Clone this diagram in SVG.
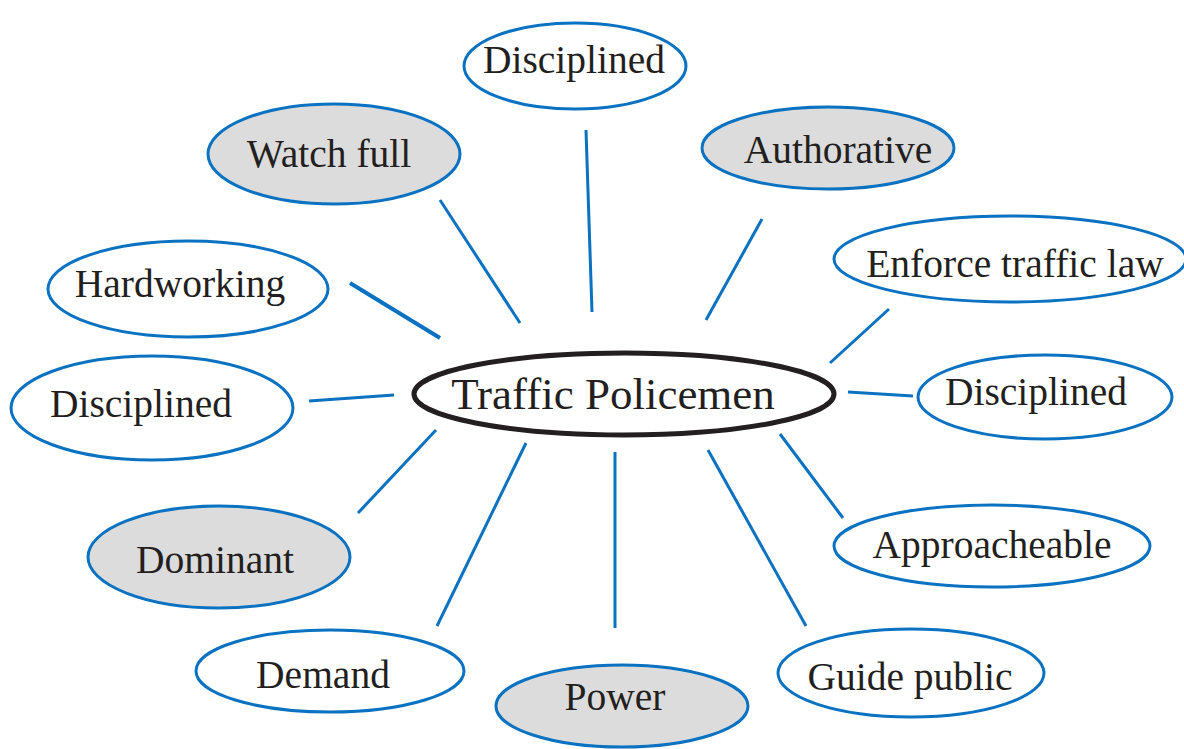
<svg xmlns="http://www.w3.org/2000/svg" width="1184" height="749" viewBox="0 0 1184 749">
<style>
.n{stroke:#0b72c1;stroke-width:3;fill:#fff}
.g{fill:#dcdcdc}
.t{font-family:"Liberation Serif",serif;font-size:39.5px;fill:#231f20;text-anchor:middle}
.c line{stroke:#0b72c1;stroke-width:3}
</style>
<rect width="1184" height="749" fill="#fff"/>
<g id="connectors" class="c">
<line x1="586" y1="130" x2="592" y2="312"/>
<line x1="440" y1="200" x2="520" y2="323"/>
<line x1="762" y1="219" x2="706" y2="320"/>
<line x1="889" y1="309" x2="830" y2="363"/>
<line x1="350" y1="283" x2="440" y2="338" style="stroke-width:4"/>
<line x1="309" y1="401" x2="394" y2="395"/>
<line x1="848" y1="392" x2="913" y2="396"/>
<line x1="436" y1="430" x2="358" y2="513"/>
<line x1="526" y1="443" x2="437" y2="626"/>
<line x1="615" y1="452" x2="615" y2="628"/>
<line x1="708" y1="450" x2="806" y2="626"/>
<line x1="780" y1="434" x2="843" y2="518"/>
</g>
<g id="center">
<ellipse cx="624" cy="394" rx="210" ry="41" fill="#fff" stroke="#231f20" stroke-width="5"/>
<text x="613" y="409" class="t" style="font-size:45px">Traffic Policemen</text>
</g>
<g id="n-disciplined-top"><ellipse class="n" cx="575" cy="66" rx="111" ry="43"/><text class="t" x="574" y="73">Disciplined</text></g>
<g id="n-watch"><ellipse class="n g" cx="334" cy="154" rx="126" ry="50"/><text class="t" x="329" y="167">Watch full</text></g>
<g id="n-authorative"><ellipse class="n g" cx="828" cy="148" rx="126" ry="41"/><text class="t" x="838" y="163">Authorative</text></g>
<g id="n-enforce"><ellipse class="n" cx="1010" cy="259" rx="176" ry="43"/><text class="t" x="1015" y="277">Enforce traffic law</text></g>
<g id="n-hardworking"><ellipse class="n" cx="188" cy="289" rx="140" ry="48"/><text class="t" x="180" y="297">Hardworking</text></g>
<g id="n-disciplined-left"><ellipse class="n" cx="152" cy="408" rx="141" ry="52"/><text class="t" x="141" y="417">Disciplined</text></g>
<g id="n-disciplined-right"><ellipse class="n" cx="1045" cy="397" rx="127" ry="42"/><text class="t" x="1036" y="405">Disciplined</text></g>
<g id="n-dominant"><ellipse class="n g" cx="219" cy="557" rx="131" ry="51"/><text class="t" x="215" y="573">Dominant</text></g>
<g id="n-approacheable"><ellipse class="n" cx="992" cy="546" rx="158" ry="41"/><text class="t" x="992" y="558">Approacheable</text></g>
<g id="n-demand"><ellipse class="n" cx="330" cy="671" rx="134" ry="41"/><text class="t" x="323" y="688">Demand</text></g>
<g id="n-power"><ellipse class="n g" cx="622" cy="706" rx="126" ry="41"/><text class="t" x="615" y="710">Power</text></g>
<g id="n-guide"><ellipse class="n" cx="911" cy="673" rx="133" ry="44"/><text class="t" x="910" y="690">Guide public</text></g>
</svg>
